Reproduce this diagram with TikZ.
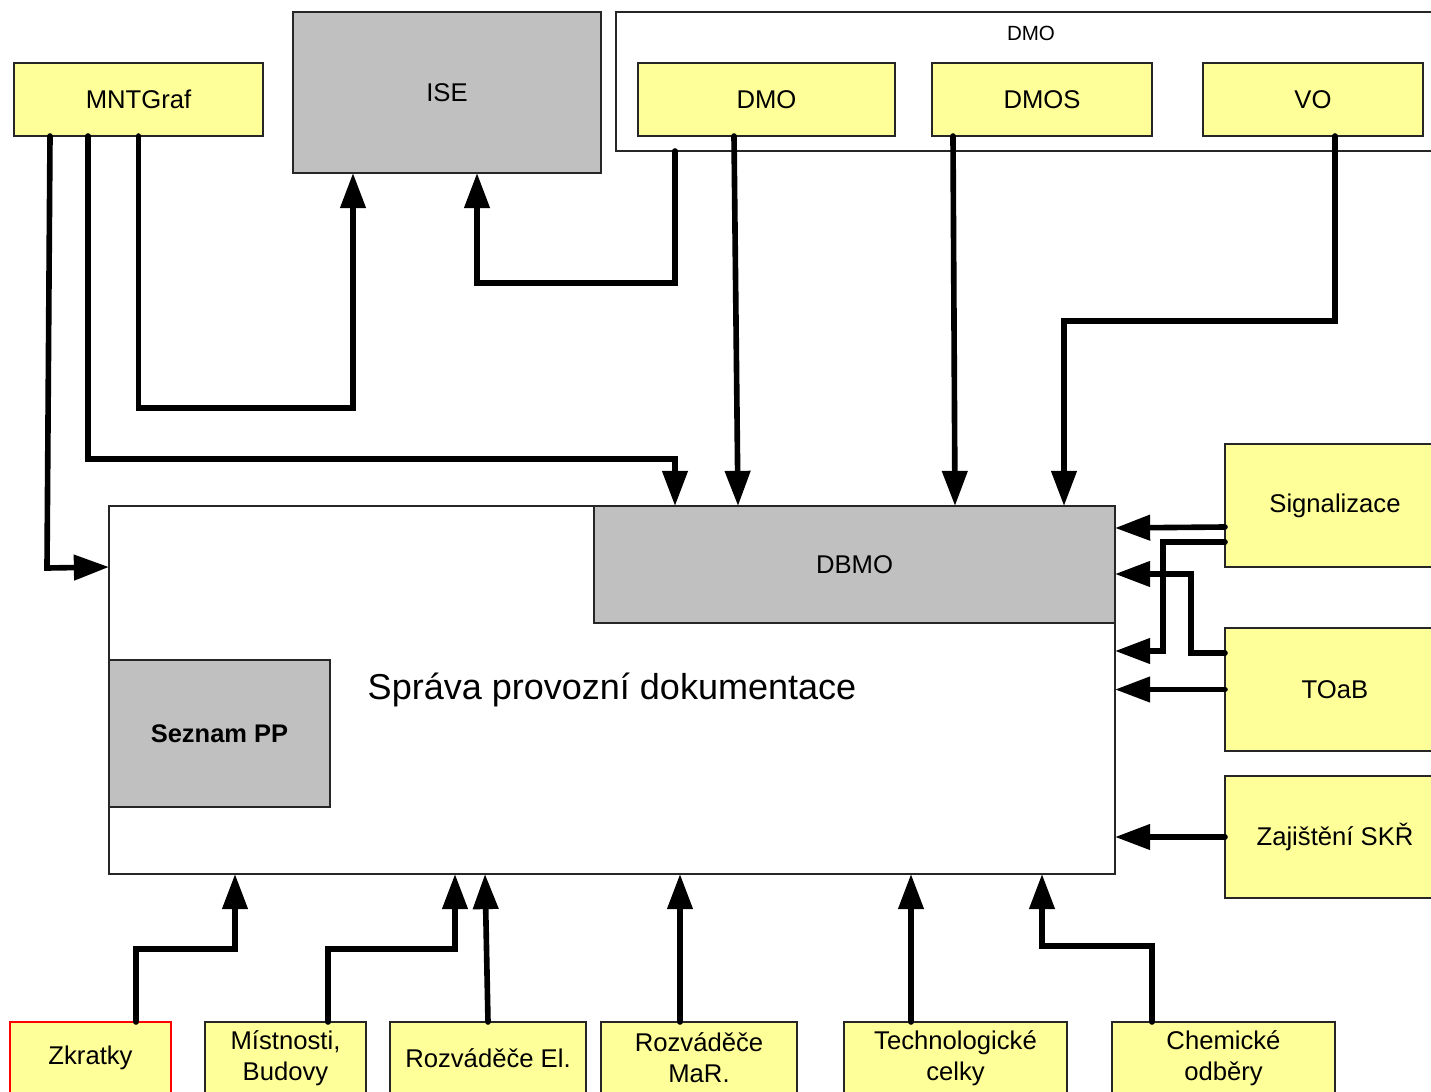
\documentclass[tikz,border=0pt]{standalone}
\usepackage{fontspec}
\setmainfont{Liberation Sans}
\usetikzlibrary{arrows.meta,calc}
\definecolor{boxyellow}{RGB}{255,255,153}
\definecolor{boxgray}{RGB}{192,192,192}
\tikzset{
  base/.style={draw=black!85, line width=0.6pt, inner sep=0pt, outer sep=0pt,
    align=center, font=\fontsize{14.6}{17.6}\selectfont},
  area/.style 2 args={minimum width=#1*0.02cm, minimum height=#2*0.02cm},
  ybox/.style={base, fill=boxyellow},
  gbox/.style={base, fill=boxgray},
  wbox/.style={base, fill=white},
  conn/.style={line width=3.2pt, line cap=round, -{Triangle[length=20pt,width=14pt]}},
}
\begin{document}
\begin{tikzpicture}[x=0.02cm, y=-0.02cm]
\useasboundingbox (0,0) rectangle (1431,1092);
\clip (0,0) rectangle (1431,1092);

% upper row
\node[ybox, area={249}{73}] (mnt) at (138.5,99.5) {MNTGraf};
\node[gbox, area={308}{161}] (ise) at (447,92.5) {ISE};
\node[wbox, area={829}{139}] (dmogrp) at (1030.5,81.5) {};
\node[font=\fontsize{11.7}{14}\selectfont] (dmolabel) at (1031,33) {DMO};
\node[ybox, area={257}{73}] (dmo) at (766.5,99.5) {DMO};
\node[ybox, area={220}{73}] (dmos) at (1042,99.5) {DMOS};
\node[ybox, area={220}{73}] (vo) at (1313,99.5) {VO};

% central block
\node[wbox, area={1006}{368}, font=\fontsize{20.5}{24}\selectfont] (main) at (612,690) {Správa provozní dokumentace};
\node[gbox, area={521}{117}] (dbmo) at (854.5,564.5) {DBMO};
\node[gbox, area={221}{147}, font=\bfseries\fontsize{14.5}{17.4}\selectfont] (seznam) at (219.5,733.5) {Seznam PP};

% right column
\node[ybox, area={220}{123}] (sig) at (1335,505.5) {Signalizace};
\node[ybox, area={220}{123}] (toab) at (1335,689.5) {TOaB};
\node[ybox, area={220}{122}] (skr) at (1335,837) {Zajištění SKŘ};

% bottom row
\node[ybox, draw=red, area={161}{72}] (zkr) at (90.5,1058) {Zkratky};
\node[ybox, area={161}{72}] (mist) at (285.5,1058) {Místnosti,\\Budovy};
\node[ybox, area={196}{72}] (rel) at (488,1058) {Rozváděče El.};
\node[ybox, area={196}{72}] (rmar) at (699,1058) {Rozváděče\\MaR.};
\node[ybox, area={223}{72}] (tech) at (955.5,1058) {Technologické\\celky};
\node[ybox, area={223}{72}] (chem) at (1223.5,1058) {Chemické\\odběry};

% connectors from the top
\draw[conn] ($(mnt.south west)+(36,0)$) -- ++(-3,432) -- ($(main.north west)+(0,61)$);
\draw[conn] ($(mnt.south west)+(74,0)$) |- ($(dbmo.north west)+(81,-47)$) -- ($(dbmo.north west)+(81,0)$);
\draw[conn] (mnt.south) |- ($(ise.south west)+(60,235)$) -- ($(ise.south west)+(60,0)$);
\draw[conn] ($(dmogrp.south west)+(59,0)$) |- ($(ise.south west)+(184,110)$) -- ($(ise.south west)+(184,0)$);
\draw[conn] ($(dmo.south west)+(96,0)$) -- ($(dbmo.north west)+(144,0)$);
\draw[conn] ($(dmos.south west)+(21,0)$) -- ($(dbmo.north west)+(361,0)$);
\draw[conn] ($(vo.south west)+(132,0)$) |- ($(dbmo.north west)+(470,-185)$) -- ($(dbmo.north west)+(470,0)$);

% connectors from the right
\draw[conn] ($(sig.north west)+(0,83)$) -- ($(dbmo.north east)+(0,22)$);
\draw[conn] ($(sig.north west)+(0,98)$) -- ++(-62,0) |- ($(main.north east)+(0,145)$);
\draw[conn] ($(toab.north west)+(0,25)$) -- ++(-34,0) |- ($(dbmo.north east)+(0,68)$);
\draw[conn] (toab.west) -- (toab.west -| main.east);
\draw[conn] (skr.west) -- (skr.west -| main.east);

% connectors from below
\draw[conn] ($(zkr.north west)+(126,0)$) |- ($(main.south west)+(126,75)$) -- ($(main.south west)+(126,0)$);
\draw[conn] ($(mist.north west)+(123,0)$) |- ($(main.south west)+(346,75)$) -- ($(main.south west)+(346,0)$);
\draw[conn] ($(rel.north west)+(98,0)$) -- ($(main.south west)+(376,0)$);
\draw[conn] ($(rmar.north west)+(79,0)$) -- ($(main.south west)+(571,0)$);
\draw[conn] ($(tech.north west)+(67,0)$) -- ($(main.south west)+(802,0)$);
\draw[conn] ($(chem.north west)+(40,0)$) |- ($(main.south west)+(933,72)$) -- ($(main.south west)+(933,0)$);
\end{tikzpicture}
\end{document}
